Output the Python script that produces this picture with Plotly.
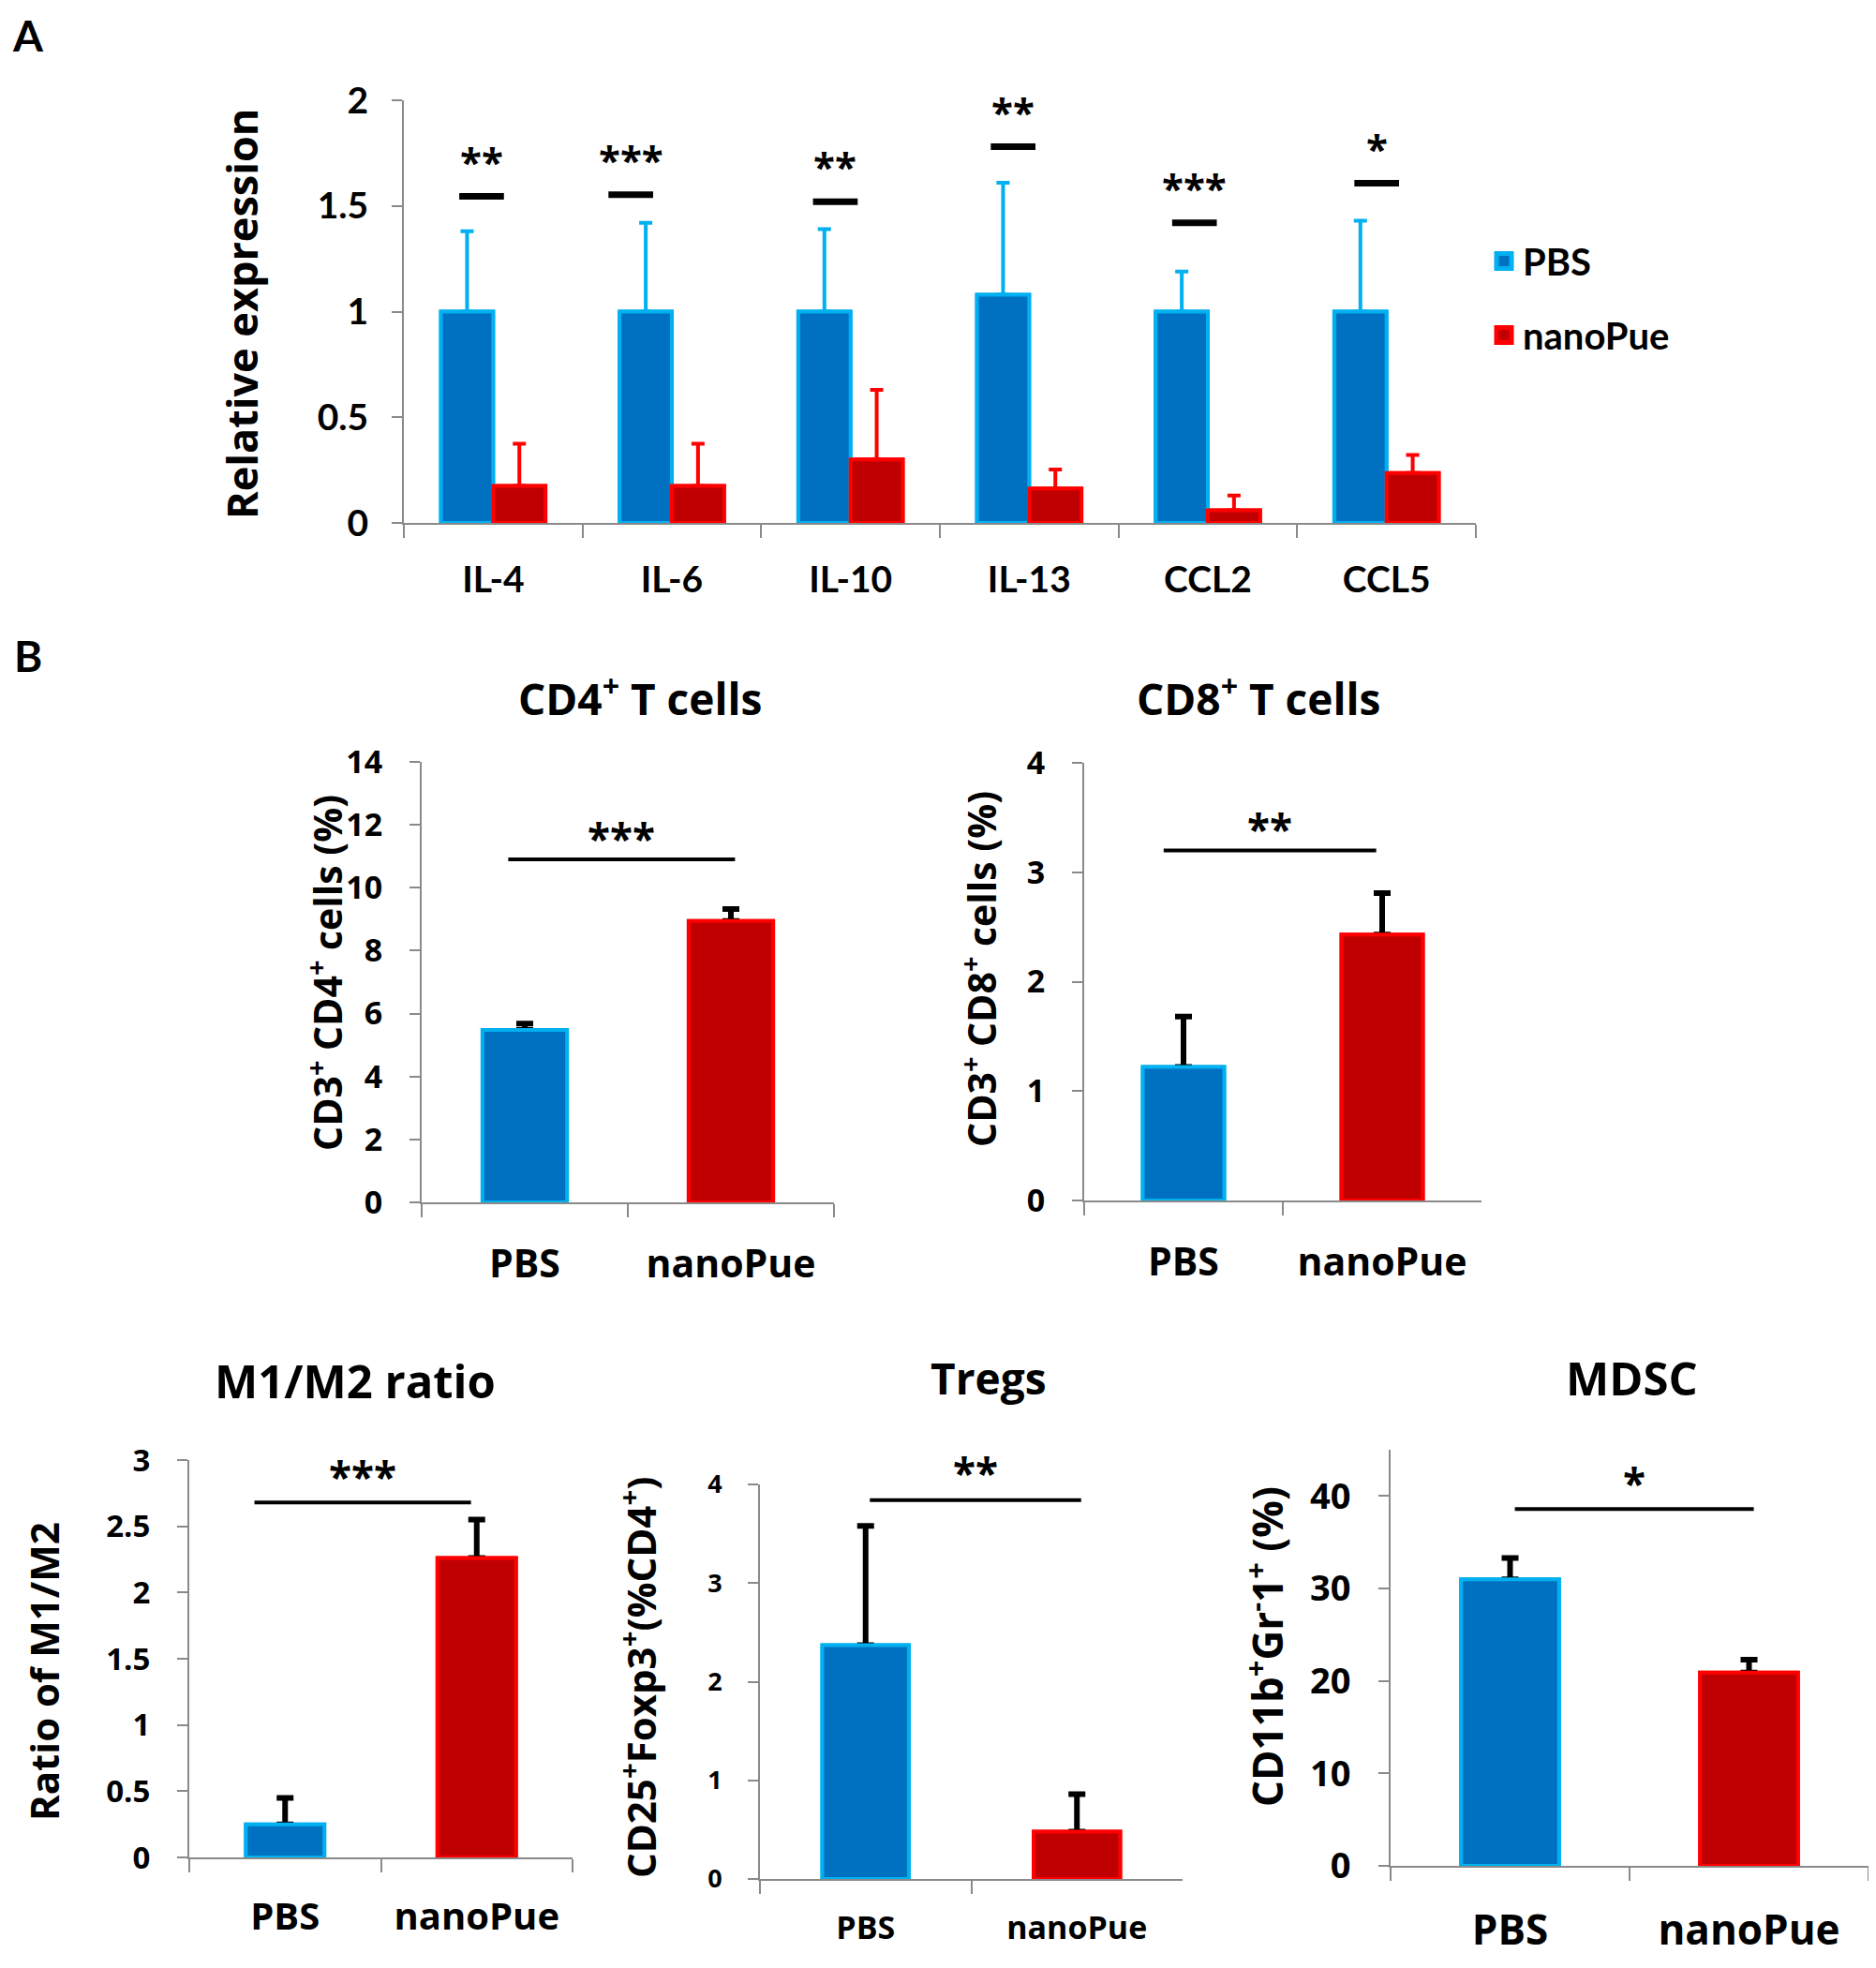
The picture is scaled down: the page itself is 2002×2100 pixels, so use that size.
import plotly.graph_objects as go

# ---------------- data ----------------
genes = ["IL-4", "IL-6", "IL-10", "IL-13", "CCL2", "CCL5"]
pbs_expr = [1.0, 1.0, 1.0, 1.08, 1.0, 1.0]
pbs_expr_err = [0.38, 0.42, 0.39, 0.53, 0.19, 0.43]
nano_expr = [0.175, 0.175, 0.30, 0.163, 0.06, 0.236]
nano_expr_err = [0.20, 0.20, 0.33, 0.09, 0.07, 0.085]
sig_expr = ["**", "***", "**", "**", "***", "*"]
sig_expr_level = [1.545, 1.553, 1.52, 1.78, 1.42, 1.607]

groups = ["PBS", "nanoPue"]
cd4_vals = [5.48, 8.94]
cd4_err = [0.20, 0.38]
cd8_vals = [1.22, 2.43]
cd8_err = [0.46, 0.38]
m1m2_vals = [0.25, 2.26]
m1m2_err = [0.20, 0.29]
treg_vals = [2.37, 0.48]
treg_err = [1.21, 0.38]
mdsc_vals = [31.0, 20.9]
mdsc_err = [2.3, 1.4]
sig_b = ["***", "**", "***", "**", "*"]
sig_b_level = [10.9, 3.2, 2.68, 3.84, 38.6]

# ---------------- style ----------------
W, H = 2002, 2100
OFF = 8  # page body margin in the browser
BLUE, BLUE_EDGE = "#0070C0", "#00B0F0"
RED, RED_EDGE = "#C00000", "#FF0000"
AXIS_GREY = "#8a8a8a"
OS = "Open Sans"
LT = "Lato"


def px_x(x):
    return (x - OFF) / W


def px_y(y):
    return 1 - (y - OFF) / H


def xd(a, b):
    return [px_x(a), px_x(b)]


def yd(top, bottom):
    return [px_y(bottom), px_y(top)]


fig = go.Figure()

# ---------------- panel A ----------------
series_a = [
    ("PBS", pbs_expr, pbs_expr_err, BLUE, BLUE_EDGE, "pbs"),
    ("nanoPue", nano_expr, nano_expr_err, RED, RED_EDGE, "nano"),
]
for name, vals, errs, fill, edge, grp in series_a:
    fig.add_trace(go.Bar(
        x=genes, y=vals, name=name, offsetgroup=grp, showlegend=False,
        marker=dict(color=fill, line=dict(color=edge, width=4)),
        error_y=dict(type="data", symmetric=False, array=errs,
                     arrayminus=[0] * len(errs), color=edge, thickness=4, width=7),
        xaxis="x", yaxis="y"))
for name, vals, errs, fill, edge, grp in series_a:
    # same bars again, covering the lower error-bar cap
    fig.add_trace(go.Bar(
        x=genes, y=vals, name=name, offsetgroup=grp, showlegend=False,
        marker=dict(color=fill, line=dict(color=edge, width=4)),
        xaxis="x", yaxis="y"))
for name, vals, errs, fill, edge, grp in series_a:
    # legend key only (larger square symbol than the bar icon)
    fig.add_trace(go.Scatter(
        x=[None], y=[None], name=name, mode="markers", legendgroup=grp,
        marker=dict(symbol="square", size=16, color=fill, line=dict(color=edge, width=5)),
        xaxis="x", yaxis="y"))

# ---------------- panel B ----------------
panels = [
    dict(ax="2", vals=cd4_vals, errs=cd4_err, xpx=(450, 890), ypx=(813, 1283),
         rng=[0, 14], dtick=2, ytf=34, xtf=41, xstand=29,
         title="CD4<sup>+</sup> T cells", tpos=(683, 743), tf=46,
         ytitle="CD3<sup>+</sup> CD4<sup>+</sup> cells (%)", ytpos=(347, 1038), ytf2=41,
         sx=(-0.08, 1.02), sshift=-9),
    dict(ax="3", vals=cd8_vals, errs=cd8_err, xpx=(1157, 1581), ypx=(814, 1281),
         rng=[0, 4], dtick=1, ytf=34, xtf=41, xstand=29,
         title="CD8<sup>+</sup> T cells", tpos=(1343, 743), tf=46,
         ytitle="CD3<sup>+</sup> CD8<sup>+</sup> cells (%)", ytpos=(1045, 1034), ytf2=41,
         sx=(-0.1, 0.97), sshift=-9),
    dict(ax="4", vals=m1m2_vals, errs=m1m2_err, xpx=(202, 611), ypx=(1558, 1982),
         rng=[0, 3], dtick=0.5, ytf=33, xtf=40, xstand=27,
         title="M1/M2 ratio", tpos=(379, 1473), tf=49,
         ytitle="Ratio of M1/M2", ytpos=(46, 1784), ytf2=42,
         sx=(-0.16, 0.97), sshift=-4),
    dict(ax="5", vals=treg_vals, errs=treg_err, xpx=(811, 1262), ypx=(1584, 2005),
         rng=[0, 4], dtick=1, ytf=27, xtf=34, xstand=21,
         title="Tregs", tpos=(1055, 1470), tf=46,
         ytitle="CD25<sup>+</sup>Foxp3<sup>+</sup>(%CD4<sup>+</sup>)", ytpos=(681, 1790), ytf2=42,
         sx=(0.02, 1.02), sshift=-2),
    dict(ax="6", vals=mdsc_vals, errs=mdsc_err, xpx=(1484, 1994), ypx=(1547, 1991),
         rng=[0, 45], dtick=10, ytf=38, xtf=44, xstand=29,
         title="MDSC", tpos=(1741, 1470), tf=49,
         ytitle="CD11b<sup>+</sup>Gr<sup>-</sup>1<sup>+</sup> (%)", ytpos=(1350, 1757), ytf2=44,
         sx=(0.02, 1.02), sshift=-4),
]

for p in panels:
    for with_err in (True, False):
        kw = {}
        if with_err:
            kw["error_y"] = dict(type="data", symmetric=False, array=p["errs"],
                                 arrayminus=[0, 0], color="black", thickness=6, width=9)
        fig.add_trace(go.Bar(
            x=groups, y=p["vals"], width=0.41, offsetgroup="g" + p["ax"], showlegend=False,
            marker=dict(color=[BLUE, RED], line=dict(color=[BLUE_EDGE, RED_EDGE], width=4)),
            xaxis="x" + p["ax"], yaxis="y" + p["ax"], **kw))

# ---------------- axes ----------------
layout = dict(
    width=W, height=H, margin=dict(l=0, r=0, t=0, b=0, pad=0, autoexpand=False),
    paper_bgcolor="white", plot_bgcolor="white",
    barmode="group", bargap=0.415, bargroupgap=0,
    showlegend=True,
    legend=dict(x=px_x(1585), y=px_y(246), xanchor="left", yanchor="top",
                font=dict(family=LT, size=40, color="black", weight="bold"),
                tracegroupgap=24, itemwidth=30, bgcolor="rgba(0,0,0,0)"),
)


def xaxis_cfg(domain, anchor, fsize, fam, standoff):
    return dict(domain=domain, anchor=anchor, type="category", automargin=False,
                showline=True, linecolor=AXIS_GREY, linewidth=2,
                ticks="outside", tickson="boundaries", ticklen=14, tickwidth=2,
                tickcolor=AXIS_GREY, showgrid=False, zeroline=False,
                tickfont=dict(family=fam, size=fsize, color="black", weight="bold"),
                ticklabelstandoff=standoff, fixedrange=True)


def yaxis_cfg(domain, anchor, rng, dtick, fsize, fam, standoff):
    return dict(domain=domain, anchor=anchor, range=rng, dtick=dtick, tick0=0,
                automargin=False,
                showline=True, linecolor=AXIS_GREY, linewidth=2,
                ticks="outside", ticklen=11, tickwidth=2, tickcolor=AXIS_GREY,
                showgrid=False, zeroline=False,
                tickfont=dict(family=fam, size=fsize, color="black", weight="bold"),
                ticklabelstandoff=standoff, fixedrange=True)


layout["xaxis"] = xaxis_cfg(xd(431, 1575), "y", 39, LT, 25)
layout["xaxis"]["range"] = [-0.5, len(genes) - 0.5]
layout["yaxis"] = yaxis_cfg(yd(107, 558), "x", [0, 2], 0.5, 39, LT, 17)
layout["yaxis"]["tickvals"] = [0, 0.5, 1, 1.5, 2]
layout["yaxis"]["ticktext"] = ["0", "0.5", "1", "1.5", "2"]

for p in panels:
    a = p["ax"]
    layout["xaxis" + a] = xaxis_cfg(xd(*p["xpx"]), "y" + a, p["xtf"], OS, p["xstand"])
    layout["xaxis" + a]["range"] = [-0.5, 1.5]
    layout["yaxis" + a] = yaxis_cfg(yd(*p["ypx"]), "x" + a, p["rng"], p["dtick"],
                                    p["ytf"], OS, 22)

shapes = []
annotations = []

# significance marks, panel A (drawn slightly left of the group centre)
SIG_SHIFT_A = [-0.065, -0.23, -0.085, -0.09, -0.075, -0.055]
for i, (s, lvl) in enumerate(zip(sig_expr, sig_expr_level)):
    c = i + SIG_SHIFT_A[i]
    shapes.append(dict(type="line", xref="x", yref="y", x0=c - 0.125, x1=c + 0.125,
                       y0=lvl, y1=lvl, line=dict(color="black", width=7)))
    annotations.append(dict(xref="x", yref="y", x=c, y=lvl, text=s, showarrow=False,
                            yanchor="bottom", yshift=8,
                            font=dict(family=OS, size=42, color="black", weight="bold")))

# significance marks, titles, panel B
for p, s, lvl in zip(panels, sig_b, sig_b_level):
    a = p["ax"]
    shapes.append(dict(type="line", xref="x" + a, yref="y" + a, x0=p["sx"][0], x1=p["sx"][1],
                       y0=lvl, y1=lvl, line=dict(color="black", width=4)))
    annotations.append(dict(xref="x" + a, yref="y" + a, x=sum(p["sx"]) / 2, y=lvl, text=s,
                            showarrow=False, yanchor="bottom", yshift=p["sshift"],
                            font=dict(family=OS, size=44, color="black", weight="bold")))
    annotations.append(dict(xref="paper", yref="paper", x=px_x(p["tpos"][0]),
                            y=px_y(p["tpos"][1]), text=p["title"], showarrow=False,
                            xanchor="center", yanchor="middle",
                            font=dict(family=OS, size=p["tf"], color="black", weight="bold")))
    annotations.append(dict(xref="paper", yref="paper", x=px_x(p["ytpos"][0]),
                            y=px_y(p["ytpos"][1]), text=p["ytitle"], showarrow=False,
                            textangle=-90, xanchor="center", yanchor="middle",
                            font=dict(family=OS, size=p["ytf2"], color="black", weight="bold")))

# panel A y title and panel letters
annotations.append(dict(xref="paper", yref="paper", x=px_x(258), y=px_y(335),
                        text="Relative expression", showarrow=False, textangle=-90,
                        xanchor="center", yanchor="middle",
                        font=dict(family=OS, size=45, color="black", weight="bold")))
annotations.append(dict(xref="paper", yref="paper", x=px_x(30), y=1.0,
                        text="A", showarrow=False, xanchor="center", yanchor="top",
                        font=dict(family=LT, size=46, color="black", weight="bold")))
annotations.append(dict(xref="paper", yref="paper", x=px_x(30), y=px_y(699),
                        text="B", showarrow=False, xanchor="center", yanchor="middle",
                        font=dict(family=LT, size=46, color="black", weight="bold")))

layout["shapes"] = shapes
layout["annotations"] = annotations
fig.update_layout(**layout)

fig.write_html("out.html")
